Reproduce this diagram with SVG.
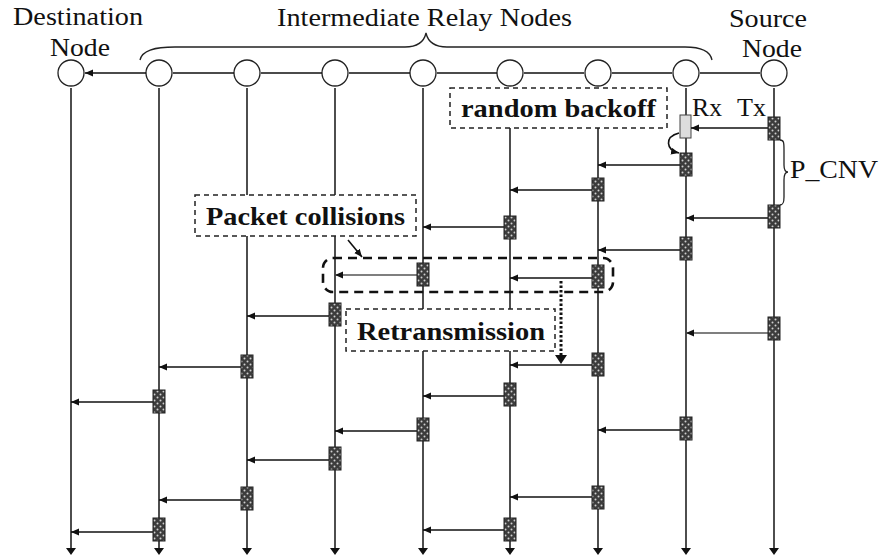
<svg xmlns="http://www.w3.org/2000/svg" width="882" height="556" viewBox="0 0 882 556">
<style>
.t{font-family:"Liberation Serif","Times New Roman",serif;font-size:25px;fill:#111}
.b{font-family:"Liberation Serif","Times New Roman",serif;font-size:26px;font-weight:bold;fill:#111}
.node{fill:#fff;stroke:#222;stroke-width:1.3}
.life{stroke:#222;stroke-width:1.6;fill:none}
.conn{stroke:#111;stroke-width:1.6;fill:none;marker-end:url(#ah)}
.gconn{stroke:#555;stroke-width:1.3;fill:none;marker-end:url(#ah)}
.pk{fill:url(#chk);stroke:#222;stroke-width:1}
.dbox{fill:#fff;stroke:#222;stroke-width:1.5;stroke-dasharray:5,4}
</style>
<defs>
<marker id="ah" markerUnits="userSpaceOnUse" markerWidth="9" markerHeight="8" refX="8" refY="3.5" orient="auto"><path d="M0,0 L8,3.5 L0,7 z" fill="#111"/></marker>
<pattern id="chk" patternUnits="userSpaceOnUse" width="6" height="6"><rect width="6" height="6" fill="#3c3c3c"/><circle cx="1.5" cy="1.5" r="1" fill="#cfcfcf"/><circle cx="4.5" cy="4.5" r="1" fill="#cfcfcf"/></pattern>
</defs>
<rect width="882" height="556" fill="#fff"/>
<g id="lifelines">
<path class="life" d="M71,88V549M159,88V549M247,88V549M335,88V549M423,88V549M510,128V549M598,128V549M686,88V549M774,88V549"/>
<path fill="#111" d="M66,548h10l-5,7zM154,548h10l-5,7zM242,548h10l-5,7zM330,548h10l-5,7zM418,548h10l-5,7zM505,548h10l-5,7zM593,548h10l-5,7zM681,548h10l-5,7zM769,548h10l-5,7z"/>
</g>
<g id="labels">
<text class="t" x="13" y="25" textLength="130" lengthAdjust="spacingAndGlyphs">Destination</text>
<text class="t" x="50" y="56" textLength="60" lengthAdjust="spacingAndGlyphs">Node</text>
<text class="t" x="277" y="26" textLength="295" lengthAdjust="spacingAndGlyphs">Intermediate Relay Nodes</text>
<text class="t" x="729" y="27" textLength="78" lengthAdjust="spacingAndGlyphs">Source</text>
<text class="t" x="742" y="57" textLength="60" lengthAdjust="spacingAndGlyphs">Node</text>
<path d="M140,60 C142,50 155,47 175,47 L405,47 C418,47 424,42 426,33 C428,42 434,47 447,47 L685,47 C700,47 710,50 712,60" fill="none" stroke="#222" stroke-width="1.3"/>
</g>
<g id="node-dest"><ellipse class="node" cx="71" cy="73" rx="13" ry="13"/></g>
<g id="node-r1"><ellipse class="node" cx="159" cy="73" rx="13" ry="13"/></g>
<g id="node-r2"><ellipse class="node" cx="247" cy="73" rx="13" ry="13"/></g>
<g id="node-r3"><ellipse class="node" cx="335" cy="73" rx="13" ry="13"/></g>
<g id="node-r4"><ellipse class="node" cx="423" cy="73" rx="13" ry="13"/></g>
<g id="node-r5"><ellipse class="node" cx="510" cy="73" rx="13" ry="13"/></g>
<g id="node-r6"><ellipse class="node" cx="598" cy="73" rx="13" ry="13"/></g>
<g id="node-r7"><ellipse class="node" cx="686" cy="73" rx="13" ry="13"/></g>
<g id="node-src"><ellipse class="node" cx="774" cy="73" rx="13" ry="13"/></g>
<g id="boxes">
<rect id="random-backoff" class="dbox" x="450" y="88" width="217" height="40"/>
<text class="b" x="461" y="117" textLength="195" lengthAdjust="spacingAndGlyphs">random backoff</text>
<rect id="packet-collisions" class="dbox" x="195" y="195" width="221" height="41"/>
<text class="b" x="206" y="225" textLength="199" lengthAdjust="spacingAndGlyphs">Packet collisions</text>
<rect id="retransmission" class="dbox" x="346" y="309" width="209" height="42"/>
<text class="b" x="357" y="340" textLength="188" lengthAdjust="spacingAndGlyphs">Retransmission</text>
<rect id="collision-zone" x="323" y="258" width="290" height="34" rx="10" fill="none" stroke="#111" stroke-width="2.6" stroke-dasharray="9,6"/>
<rect id="rx-box" x="680" y="115" width="11" height="23" fill="#ddd" stroke="#444" stroke-width="1"/>
<text class="t" x="692" y="116" textLength="30" lengthAdjust="spacingAndGlyphs">Rx</text>
<text class="t" x="737" y="116" textLength="29" lengthAdjust="spacingAndGlyphs">Tx</text>
<path d="M780,140 C784,140 784,143 784,150 L784,165 C784,170 786,172 788,172 C786,172 784,174 784,180 L784,197 C784,203 783,205 780,205" fill="none" stroke="#222" stroke-width="1.3"/>
<text class="t" x="790" y="178" textLength="88" lengthAdjust="spacingAndGlyphs">P_CNV</text>
</g>
<g id="connectors">
<path class="conn" d="M760,73H700M672,73H612M584,73H524M497,73H437M410,73H349M322,73H261M234,73H173M146,73H85" stroke-width="2"/>
<path class="conn" d="M768,128H691"/>
<path class="conn" d="M679,133 C664,137 666,150 679,153"/>
<path class="conn" d="M680,165H598"/>
<path class="conn" d="M592,190H510"/>
<path class="conn" d="M504,227H423"/>
<path class="conn" d="M768,218H686"/>
<path class="conn" d="M680,250H598"/>
<path class="gconn" d="M417,275H335"/>
<path class="conn" d="M592,278H510"/>
<path class="conn" d="M329,316H247"/>
<path class="gconn" d="M768,333H686"/>
<path class="conn" d="M241,367H159"/>
<path class="conn" d="M592,365H510"/>
<path class="conn" d="M153,402H71"/>
<path class="conn" d="M504,396H423"/>
<path class="conn" d="M417,431H335"/>
<path class="conn" d="M680,430H598"/>
<path class="conn" d="M329,460H247"/>
<path class="conn" d="M241,500H159"/>
<path class="conn" d="M592,497H510"/>
<path class="conn" d="M153,532H71"/>
<path class="conn" d="M504,530H423"/>
<path class="conn" d="M348,240L362,257"/>
<path d="M561,281V356" stroke="#111" stroke-width="3" stroke-dasharray="2.5,2" fill="none"/>
<path d="M555,355h12l-6,9z" fill="#111"/>
</g>
<g id="packets">
<rect class="pk" x="768" y="117" width="12" height="23"/>
<rect class="pk" x="768" y="205" width="12" height="23"/>
<rect class="pk" x="768" y="317" width="12" height="23"/>
<rect class="pk" x="680" y="153" width="12" height="23"/>
<rect class="pk" x="680" y="237" width="12" height="23"/>
<rect class="pk" x="680" y="417" width="12" height="23"/>
<rect class="pk" x="592" y="178" width="12" height="23"/>
<rect class="pk" x="592" y="265" width="12" height="23"/>
<rect class="pk" x="592" y="353" width="12" height="23"/>
<rect class="pk" x="592" y="486" width="12" height="23"/>
<rect class="pk" x="504" y="216" width="12" height="23"/>
<rect class="pk" x="504" y="383" width="12" height="23"/>
<rect class="pk" x="504" y="518" width="12" height="23"/>
<rect class="pk" x="417" y="263" width="12" height="23"/>
<rect class="pk" x="417" y="418" width="12" height="23"/>
<rect class="pk" x="329" y="303" width="12" height="23"/>
<rect class="pk" x="329" y="447" width="12" height="23"/>
<rect class="pk" x="241" y="355" width="12" height="23"/>
<rect class="pk" x="241" y="487" width="12" height="23"/>
<rect class="pk" x="153" y="390" width="12" height="23"/>
<rect class="pk" x="153" y="518" width="12" height="23"/>
</g>
</svg>
